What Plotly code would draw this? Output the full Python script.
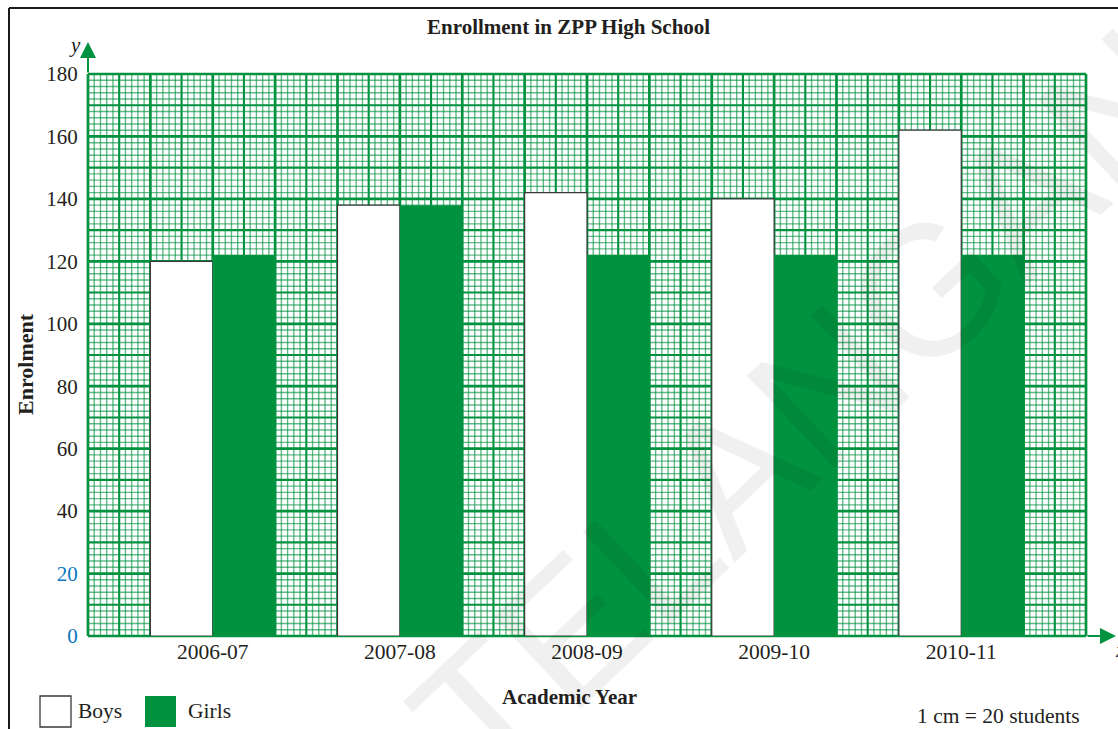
import plotly.graph_objects as go

# Enrolment per academic year
years = ["2006-07", "2007-08", "2008-09", "2009-10", "2010-11"]
boys = [120, 138, 142, 140, 162]
girls = [122, 138, 122, 122, 122]
y_ticks = [0, 20, 40, 60, 80, 100, 120, 140, 160, 180]
blue_ticks = [0, 20]

W, H = 1118, 729
L, R, T, B = 88, 32, 74, 93
PW, PH = W - L - R, H - T - B

GREEN = "#00923f"
INK = "#231f20"
SERIF = "Liberation Serif"


def px(x):
    """figure pixel column -> paper x"""
    return (x - L) / PW


def py(y):
    """figure pixel row -> paper y"""
    return (H - B - y) / PH


fig = go.Figure()
fig.add_trace(go.Bar(
    x=years, y=boys, name="Boys",
    marker=dict(color="white", line=dict(color="#3a3a3a", width=1.2)),
    hoverinfo="skip",
))
fig.add_trace(go.Bar(
    x=years, y=girls, name="Girls",
    marker=dict(color=GREEN, line=dict(width=0)),
    hoverinfo="skip",
))

# graph-paper grid: 1 mm fine lines, 5 mm medium lines, 1 cm bold lines
shapes = []
fine, medium, bold = [], [], []
for k in range(161):
    f = k / 160
    line = dict(type="line", xref="x domain", yref="y domain",
                x0=f, x1=f, y0=0, y1=1, layer="below")
    (bold if k % 10 == 0 else medium if k % 5 == 0 else fine).append(line)
for k in range(91):
    f = k / 90
    line = dict(type="line", xref="x domain", yref="y domain",
                x0=0, x1=1, y0=f, y1=f, layer="below")
    (bold if k % 10 == 0 else medium if k % 5 == 0 else fine).append(line)
for s in fine:
    s["line"] = dict(color="rgba(0,146,63,0.62)", width=1.4)
for s in medium:
    s["line"] = dict(color=GREEN, width=2.1)
for s in bold:
    s["line"] = dict(color=GREEN, width=2.7)
shapes += fine + medium + bold

# page frame
shapes.append(dict(type="line", xref="paper", yref="paper",
                   x0=px(9), x1=px(9), y0=py(8), y1=py(H + 2),
                   line=dict(color="#1a1a1a", width=2), layer="above"))
shapes.append(dict(type="line", xref="paper", yref="paper",
                   x0=px(9), x1=px(W + 2), y0=py(8), y1=py(8),
                   line=dict(color="#1a1a1a", width=2), layer="above"))

# legend swatches
shapes.append(dict(type="rect", xref="paper", yref="paper",
                   x0=px(40), x1=px(71), y0=py(727), y1=py(696),
                   fillcolor="white", line=dict(color="#3a3a3a", width=1.3),
                   layer="above"))
shapes.append(dict(type="rect", xref="paper", yref="paper",
                   x0=px(145), x1=px(176), y0=py(727), y1=py(696),
                   fillcolor=GREEN, line=dict(width=0), layer="above"))


def label(text, x, y, size=21.5, xanchor="center", angle=0, color=INK,
          family=SERIF):
    return dict(text=text, xref="paper", yref="paper", x=px(x), y=py(y),
                xanchor=xanchor, yanchor="middle", showarrow=False,
                textangle=angle, font=dict(family=family, size=size, color=color))


ann = [
    label("<b>Enrollment in ZPP High School</b>", 568, 27, size=21),
    label("<b>Enrolment</b>", 25, 364, size=22, angle=-90),
    label("<b>Academic Year</b>", 569, 697, size=21),
    label("<i>y</i>", 75, 45, size=21),
    label("<i>x</i>", 1113, 650, size=21, xanchor="left"),
    label("Boys", 76, 711, xanchor="left"),
    label("Girls", 186, 711, xanchor="left"),
    label("1 cm = 20 students", 1082, 716, xanchor="right"),
]

# axis arrows
ann.append(dict(text="", xref="paper", yref="paper", x=px(1116), y=0,
                ax=-30, ay=0, showarrow=True, arrowhead=2, arrowsize=1.6,
                arrowwidth=2, arrowcolor=GREEN, standoff=0))
ann.append(dict(text="", xref="paper", yref="paper", x=0, y=py(42),
                ax=0, ay=32, showarrow=True, arrowhead=2, arrowsize=1.6,
                arrowwidth=2, arrowcolor=GREEN, standoff=0))

# watermark
ann.append(label("TELANGANA", 850, 365, size=185, angle=-43.5,
                 color="rgba(0,0,0,0.06)", family="Liberation Sans"))

tick_text = [
    f"<span style='color:#0a78c2'>{v}</span>" if v in blue_ticks else str(v)
    for v in y_ticks
]

fig.update_layout(
    width=W, height=H,
    margin=dict(l=L, r=R, t=T, b=B, pad=0),
    paper_bgcolor="white", plot_bgcolor="white",
    barmode="group", bargap=1 / 3, bargroupgap=0,
    showlegend=False,
    shapes=shapes, annotations=ann,
    font=dict(family=SERIF, color=INK),
    xaxis=dict(type="category", range=[-2 / 3, 14 / 3], showgrid=False,
               zeroline=False, showline=False, ticks="",
               tickfont=dict(family=SERIF, size=21.5, color=INK),
               fixedrange=True),
    yaxis=dict(range=[0, 180], tickvals=y_ticks, ticktext=tick_text,
               showgrid=False, zeroline=False, showline=False,
               ticks="outside", ticklen=5, tickcolor="rgba(0,0,0,0)",
               tickfont=dict(family=SERIF, size=21, color=INK),
               fixedrange=True),
)

fig.write_html("out.html", config={"displayModeBar": False})
